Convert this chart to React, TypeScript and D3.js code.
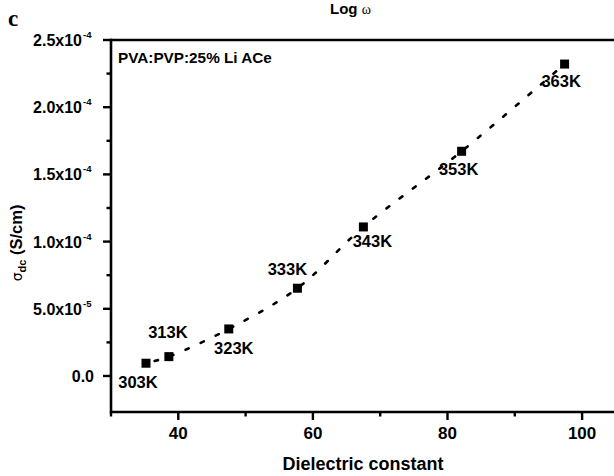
import React from "react";
import * as d3 from "d3";

const temps = ["303K", "313K", "323K", "333K", "343K", "353K", "363K"];
const dielectric = [35.2, 38.6, 47.5, 57.7, 67.5, 82.1, 97.4];
const sigmaDc = [0.95e-5, 1.44e-5, 3.5e-5, 6.53e-5, 11.09e-5, 16.72e-5, 23.21e-5];
// label offsets [dx, dy] relative to marker (px)
const labelOffsets: [number, number][] = [
  [-8, 25], [-1, -19], [5, 25], [-10, -13], [9, 20], [-3, 24], [-3.5, 23],
];
const xMajor = [40, 60, 80, 100];
const xMinor = [30, 50, 70, 90];
const yMajor = [0, 5e-5, 1e-4, 1.5e-4, 2e-4, 2.5e-4];
const yMajorLabels = ["0.0", "5.0x10", "1.0x10", "1.5x10", "2.0x10", "2.5x10"];
const yMajorExp = ["", "-5", "-4", "-4", "-4", "-4"];
const yMinor = [2.5e-5, 7.5e-5, 1.25e-4, 1.75e-4, 2.25e-4];

const W = 614, H = 476;
const L = 111, T = 40, B = 412;
const x = d3.scaleLinear().domain([30, 105]).range([L, L + 75 * 6.73]);
const y = d3.scaleLinear().domain([-2.68e-5, 2.5e-4]).range([B, T]);

const font = "'Liberation Sans', Arial, sans-serif";

export default function App() {
  const pts = dielectric.map((d, i) => [d, sigmaDc[i]] as [number, number]);
  const line = d3
    .line<[number, number]>()
    .x((d) => x(d[0]))
    .y((d) => y(d[1]))
    .curve(d3.curveCatmullRom.alpha(0.5));
  return (
    <svg width={W} height={H} style={{ position: "absolute", left: 0, top: 0, background: "#fff" }}
      fontFamily={font} fontWeight="bold">
      <rect x={0} y={0} width={W} height={H} fill="#fff" />
      {/* panel letter */}
      <text x={8} y={26} fontFamily="'Liberation Serif', 'Times New Roman', serif" fontSize={23} fontWeight="bold">c</text>
      {/* top title (cut in the source figure) */}
      <text x={330} y={13.5} fontSize={15}>Log <tspan fontFamily="'Liberation Serif', serif" fontWeight="normal" fontSize={14}>ω</tspan></text>

      {/* fit curve */}
      <path d={line(pts) || ""} fill="none" stroke="#000" strokeWidth={2.6}
        strokeDasharray="3.5 13" strokeLinecap="round" strokeDashoffset={-9} />

      {/* markers */}
      {pts.map((p, i) => (
        <rect key={"m" + i} x={x(p[0]) - 4.5} y={y(p[1]) - 4.5} width={9} height={9} fill="#000" />
      ))}
      {/* labels */}
      {pts.map((p, i) => (
        <text key={"l" + i} x={x(p[0]) + labelOffsets[i][0]} y={y(p[1]) + labelOffsets[i][1]}
          fontSize={16.5} textAnchor="middle">{temps[i]}</text>
      ))}

      {/* axes */}
      <line x1={L} x2={W + 5} y1={B} y2={B} stroke="#000" strokeWidth={2.6} />
      <line x1={L} x2={W + 5} y1={T} y2={T} stroke="#000" strokeWidth={2.6} />
      <line x1={L} x2={L} y1={T - 1.3} y2={B + 1.3} stroke="#000" strokeWidth={2.6} />

      {xMajor.map((v) => (
        <g key={"xm" + v}>
          <line x1={x(v)} x2={x(v)} y1={B} y2={B + 8} stroke="#000" strokeWidth={2.4} />
          <text x={x(v)} y={B + 27} fontSize={17} textAnchor="middle">{v}</text>
        </g>
      ))}
      {xMinor.map((v) => (
        <line key={"xn" + v} x1={x(v)} x2={x(v)} y1={B} y2={B + 4.5} stroke="#000" strokeWidth={2.4} />
      ))}
      {yMajor.map((v, i) => (
        <g key={"ym" + i}>
          <line x1={L - 8} x2={L} y1={y(v)} y2={y(v)} stroke="#000" strokeWidth={2.4} />
          <text x={yMajorExp[i] ? 82 : 94} y={y(v) + 6} fontSize={16} textAnchor="end">{yMajorLabels[i]}</text>
          {yMajorExp[i] && (
            <text x={83} y={y(v) - 2} fontSize={9.5}>{yMajorExp[i]}</text>
          )}
        </g>
      ))}
      {yMinor.map((v, i) => (
        <line key={"yn" + i} x1={L - 4.5} x2={L} y1={y(v)} y2={y(v)} stroke="#000" strokeWidth={2.4} />
      ))}

      {/* axis titles */}
      <text x={363} y={470} fontSize={18} textAnchor="middle">Dielectric constant</text>
      <g transform="translate(22,243) rotate(-90)">
        <text x={0} y={0} textAnchor="middle" fontSize={16.5}>
          <tspan fontFamily="'DejaVu Sans', sans-serif" fontWeight="normal" fontSize={14}>σ</tspan>
          <tspan fontSize={11} dy={4}>dc</tspan>
          <tspan dy={-4}> (S/cm)</tspan>
        </text>
      </g>

      {/* inset */}
      <text x={118} y={63} fontSize={15.3}>PVA:PVP:25% Li ACe</text>
    </svg>
  );
}
